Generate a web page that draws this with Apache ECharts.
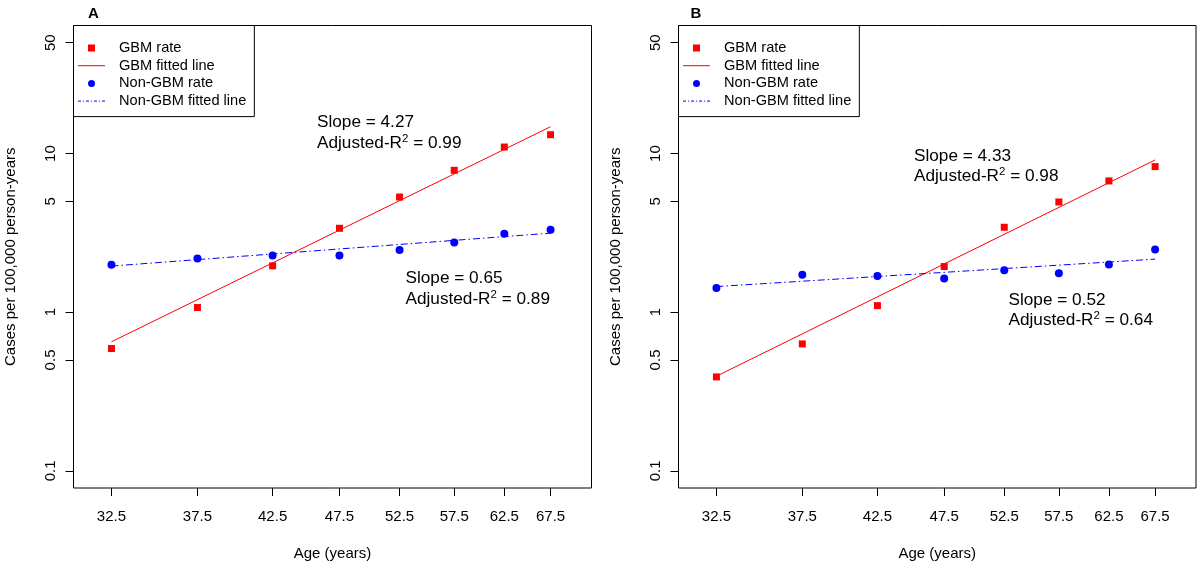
<!DOCTYPE html>
<html>
<head>
<meta charset="utf-8">
<script src="https://cdn.jsdelivr.net/npm/echarts@6/dist/echarts.min.js"></script>
<style>html,body{margin:0;padding:0;background:#fff;}#c{width:1200px;height:566px;}</style>
</head>
<body>
<div id="c"></div>
<script>
// ---- data ----
const ages = [32.5, 37.5, 42.5, 47.5, 52.5, 57.5, 62.5, 67.5];
const fitAges = [32.5, 67.5];
const yTicks = [0.1, 0.5, 1, 5, 10, 50];

const gbmRateA = [0.59, 1.07, 1.96, 3.38, 5.32, 7.84, 10.99, 13.14];
const nonGbmRateA = [1.99, 2.18, 2.28, 2.28, 2.47, 2.75, 3.12, 3.31];
const gbmFitA = [0.651, 14.76];
const nonGbmFitA = [1.953, 3.15];

const gbmRateB = [0.391, 0.631, 1.10, 1.94, 3.43, 4.95, 6.72, 8.27];
const nonGbmRateB = [1.42, 1.72, 1.69, 1.63, 1.84, 1.76, 2.00, 2.48];
const gbmFitB = [0.395, 9.11];
const nonGbmFitB = [1.45, 2.16];

const panelTitles = ['A', 'B'];
const slopeTexts = [['4.27', '0.99', '0.65', '0.89'], ['4.33', '0.98', '0.52', '0.64']];

// ---- chart ----
const FONT = "'Liberation Sans', Arial, Helvetica, sans-serif";
const RED = '#ff0000', BLUE = '#0000ff';
const pair = (xs, ys) => xs.map((x, i) => [x, ys[i]]);
const fmt = v => String(+(+v).toPrecision(3));

const grids = [
  { left: 73.5, top: 25.5, width: 518, height: 463 },
  { left: 678.5, top: 25.5, width: 517.5, height: 463 }
];

function xAxisFor(i) {
  return {
    type: 'log', gridIndex: i, min: 30.51, max: 72.26,
    name: 'Age (years)', nameLocation: 'middle', nameGap: 58,
    nameTextStyle: { fontFamily: FONT, fontSize: 15, color: '#000' },
    axisLine: { show: false },
    splitLine: { show: false }, minorTick: { show: false }, minorSplitLine: { show: false },
    axisTick: { show: true, length: 8, lineStyle: { color: '#000', width: 1 }, customValues: ages },
    axisLabel: { customValues: ages, margin: 21, fontFamily: FONT, fontSize: 15, color: '#000', formatter: fmt, hideOverlap: false, showMinLabel: true, showMaxLabel: true }
  };
}
function yAxisFor(i) {
  return {
    type: 'log', gridIndex: i, min: 0.07797, max: 64.12,
    name: 'Cases per 100,000 person-years', nameLocation: 'middle', nameGap: 55, nameRotate: 90,
    nameTextStyle: { fontFamily: FONT, fontSize: 15, color: '#000' },
    axisLine: { show: false },
    splitLine: { show: false }, minorTick: { show: false }, minorSplitLine: { show: false },
    axisTick: { show: true, length: 8, lineStyle: { color: '#000', width: 1 }, customValues: yTicks },
    axisLabel: { customValues: yTicks, rotate: 90, margin: 15, fontFamily: FONT, fontSize: 15, color: '#000', formatter: fmt, hideOverlap: false }
  };
}

function seriesFor(i, gbm, non, gfit, nfit) {
  return [
    { name: 'GBM rate', type: 'scatter', xAxisIndex: i, yAxisIndex: i, symbol: 'rect', symbolSize: 7,
      itemStyle: { color: RED, opacity: 1 }, data: pair(ages, gbm), z: 3 },
    { name: 'GBM fitted line', type: 'line', xAxisIndex: i, yAxisIndex: i, symbol: 'none', showSymbol: false,
      lineStyle: { color: RED, width: 1 }, itemStyle: { color: RED }, data: pair(fitAges, gfit), z: 2 },
    { name: 'Non-GBM rate', type: 'scatter', xAxisIndex: i, yAxisIndex: i, symbol: 'circle', symbolSize: 8,
      itemStyle: { color: BLUE, opacity: 1 }, data: pair(ages, non), z: 3 },
    { name: 'Non-GBM fitted line', type: 'line', xAxisIndex: i, yAxisIndex: i, symbol: 'none', showSymbol: false,
      lineStyle: { color: BLUE, width: 1, type: [7, 3, 1.5, 3] }, itemStyle: { color: BLUE }, data: pair(fitAges, nfit), z: 2 }
  ];
}

const hiddenDot = { color: 'rgba(0,0,0,0)', opacity: 0, borderWidth: 0 };
function legendFor(i) {
  return {
    orient: 'vertical', left: grids[i].left, top: grids[i].top,
    padding: [15, 8, 8, 4], itemGap: 2.7, itemWidth: 27, itemHeight: 7,
    backgroundColor: '#fff', borderColor: '#000', borderWidth: 1, borderRadius: 0,
    selectedMode: false, symbolKeepAspect: true,
    textStyle: { fontFamily: FONT, fontSize: 14.6, color: '#000', lineHeight: 14, padding: [0, 0, 0, 9] },
    data: [
      { name: 'GBM rate', icon: 'path://M0 0H10V10H0Z', itemStyle: { color: RED, opacity: 1 } },
      { name: 'GBM fitted line', itemStyle: hiddenDot, lineStyle: { color: RED, width: 1 } },
      { name: 'Non-GBM rate', icon: 'circle', itemStyle: { color: BLUE, opacity: 1 } },
      { name: 'Non-GBM fitted line', itemStyle: hiddenDot, lineStyle: { color: BLUE, width: 1, type: [3, 2, 1, 2] } }
    ]
  };
}

const rich = {
  s: { fontFamily: FONT, fontSize: 11.5, lineHeight: 11, verticalAlign: 'top', fill: '#000' }
};
function annot(x, y, slope, r2) {
  return {
    type: 'text', left: x, top: y, z: 10,
    style: {
      text: 'Slope = ' + slope + '\nAdjusted-R{s|2} = ' + r2,
      fontFamily: FONT, fontSize: 17.2, lineHeight: 20.6, fill: '#000', rich: rich
    }
  };
}

const option = {
  backgroundColor: '#fff',
  animation: false,
  title: panelTitles.map((t, i) => ({
    text: t, left: i === 0 ? 88 : 690.5, top: 6, padding: 0,
    textStyle: { fontFamily: FONT, fontSize: 15, fontWeight: 'bold', color: '#000' }
  })),
  grid: grids.map(g => Object.assign({ show: true, borderColor: '#000', borderWidth: 1, backgroundColor: 'transparent' }, g)),
  xAxis: [xAxisFor(0), xAxisFor(1)],
  yAxis: [yAxisFor(0), yAxisFor(1)],
  legend: [legendFor(0), legendFor(1)],
  series: [].concat(
    seriesFor(0, gbmRateA, nonGbmRateA, gbmFitA, nonGbmFitA),
    seriesFor(1, gbmRateB, nonGbmRateB, gbmFitB, nonGbmFitB)
  ),
  graphic: [
    annot(317, 112.4, slopeTexts[0][0], slopeTexts[0][1]),
    annot(405.5, 268, slopeTexts[0][2], slopeTexts[0][3]),
    annot(914, 145.7, slopeTexts[1][0], slopeTexts[1][1]),
    annot(1008.5, 289.7, slopeTexts[1][2], slopeTexts[1][3])
  ]
};

const chart = echarts.init(document.getElementById('c'), null, { renderer: 'canvas' });
chart.setOption(option);
</script>
</body>
</html>
